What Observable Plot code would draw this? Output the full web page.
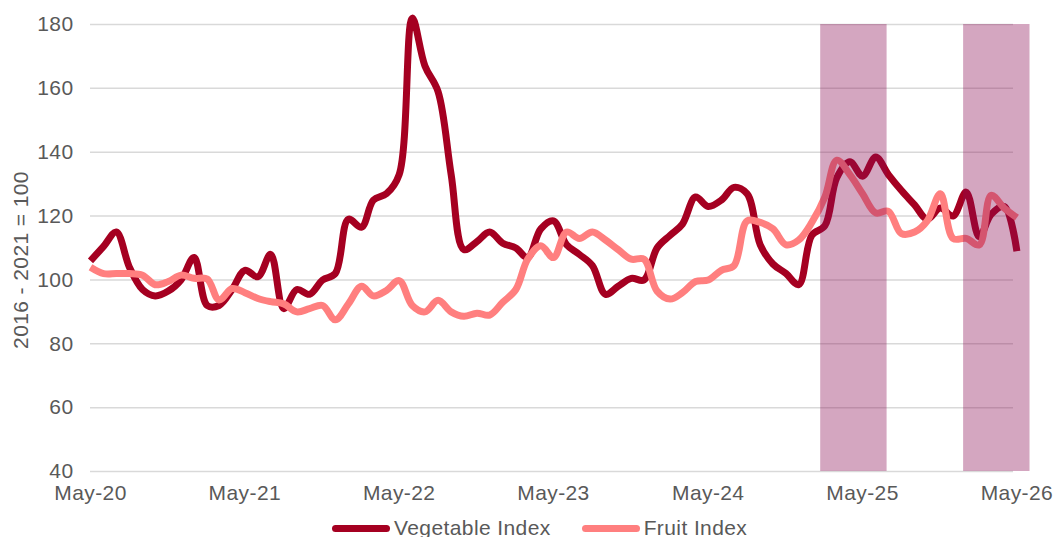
<!DOCTYPE html>
<html>
<head>
<meta charset="utf-8">
<script src="https://cdn.jsdelivr.net/npm/d3@7"></script>
<script src="https://cdn.jsdelivr.net/npm/@observablehq/plot@0.6"></script>
<style>
  html, body { margin: 0; padding: 0; background: #fff; overflow: hidden; }
  #wrap { position: relative; width: 1059px; height: 537px; }
  #legend { position: absolute; left: 332px; top: 514px; height: 28px; display: flex; align-items: center;
            font-family: "Liberation Sans", Arial, sans-serif; font-size: 21px; color: #595959; letter-spacing: 0.4px; white-space: nowrap; }
  .sw { display: inline-block; width: 58px; height: 7px; border-radius: 3.5px; }
  .item { display: flex; align-items: center; }
  .item span.t { margin-left: 4px; }
</style>
</head>
<body>
<div id="wrap"></div>
<script>
// ---- data ----
const firstMonth = "2020-05-01";
const lastMonth = "2026-05-01";
const seriesNames = ["Vegetable Index", "Fruit Index"];
const seriesColors = ["#A50021", "#FF7F7F"];
const vegetable = [106,110.5,115,104,97,95,96.5,100,107,92,
  92,97,103,101,108,91,97,95.5,100,102,
  119,116.5,125,127,133,182,167,159,133,109.5,
  112,115,111.5,110,107,116,118.5,111,108,104.5,
  95.5,98,100.5,100,110,114,117.5,126,123,125,
  129,127,111,105,102,98.5,114,117,132,137,
  132.5,138.5,133,128,123.5,119,122.5,120,127.5,113.5,
  120.5,123,109];
const fruit = [104,102,102,102,101.5,98.5,99.5,101.5,100.5,100.3,
  93.7,97.3,96,94.2,93.2,92.5,90,91,92,87.5,
  92.5,98,95,96.7,99.8,92,90,93.6,90,88.6,
  89.6,89,93,97,106.5,110.7,107,115,113,115,
  112.5,109.5,106.5,106.5,96.5,94,96,99.5,100,103,
  104.5,118.5,118,116,111,112.5,118,126,137.5,133,
  127,121,121.5,114.5,115,118.5,127,113,113,111,
  126.5,122.5,119.5];
const shadeStart = ["2025-01-22", "2025-12-26"];
const shadeEnd = ["2025-06-28", "2026-06-01"];
const xTickLabels = ["2020-05-01","2021-05-01","2022-05-01","2023-05-01","2024-05-01","2025-05-01","2026-05-01"];
const yTicks = [40, 60, 80, 100, 120, 140, 160, 180];
const yLabel = "2016 - 2021 = 100";

// ---- build ----
const parse = d3.utcParse("%Y-%m-%d");
const months = d3.utcMonth.range(parse(firstMonth), d3.utcMonth.offset(parse(lastMonth), 1));
const rows = months.map((d, i) => ({date: d, vegetable: vegetable[i], fruit: fruit[i]}));
const shades = shadeStart.map((s, i) => ({start: parse(s), end: parse(shadeEnd[i])}));
const xStart = parse(firstMonth), xEnd = parse(lastMonth);
const yMin = d3.min(yTicks), yMax = d3.max(yTicks);

const chart = Plot.plot({
  width: 1059,
  height: 510,
  marginLeft: 90,
  marginRight: 29.5,
  marginTop: 24,
  marginBottom: 39,
  style: {fontFamily: "'Liberation Sans', Arial, sans-serif", fontSize: "21px", color: "#595959", background: "#fff", letterSpacing: "0.4px", overflow: "visible"},
  x: {type: "utc", domain: [xStart, d3.utcMonth.offset(xEnd, 1)]},
  y: {domain: [yMin, yMax]},
  marks: [
    Plot.ruleY(yTicks, {y: d => d, x1: () => xStart, x2: () => d3.utcDay.offset(xEnd, -8), stroke: "#D9D9D9", strokeWidth: 1.5}),
    Plot.line(rows, {x: "date", y: "vegetable", stroke: seriesColors[0], strokeWidth: 7, curve: "catmull-rom", strokeLinecap: "butt", strokeLinejoin: "round"}),
    Plot.line(rows, {x: "date", y: "fruit", stroke: seriesColors[1], strokeWidth: 7, curve: "catmull-rom", strokeLinecap: "butt", strokeLinejoin: "round"}),
    Plot.rect(shades, {x1: "start", x2: "end", y1: () => yMin, y2: () => yMax, fill: "rgb(139,14,85)", fillOpacity: 0.37}),
    Plot.axisX(xTickLabels.map(parse), {tickSize: 0, tickPadding: 14, tickFormat: d3.utcFormat("%b-%y"), label: null, fill: "#595959"}),
    Plot.axisY(yTicks, {tickSize: 0, tickPadding: 17, label: null, fill: "#595959"}),
    Plot.text([yLabel], {text: d => d, frameAnchor: "left", rotate: -90, dx: -69, dy: 12, textAnchor: "middle", lineAnchor: "middle", fill: "#595959", fontSize: 21, letterSpacing: "1.1px"})
  ]
});

const wrap = document.getElementById("wrap");
wrap.appendChild(chart);

const legend = document.createElement("div");
legend.id = "legend";
seriesNames.forEach((name, i) => {
  const item = document.createElement("div");
  item.className = "item";
  if (i > 0) item.style.marginLeft = "31px";
  const sw = document.createElement("span");
  sw.className = "sw";
  sw.style.background = seriesColors[i];
  const t = document.createElement("span");
  t.className = "t";
  t.textContent = name;
  item.appendChild(sw);
  item.appendChild(t);
  legend.appendChild(item);
});
wrap.appendChild(legend);
</script>
</body>
</html>
